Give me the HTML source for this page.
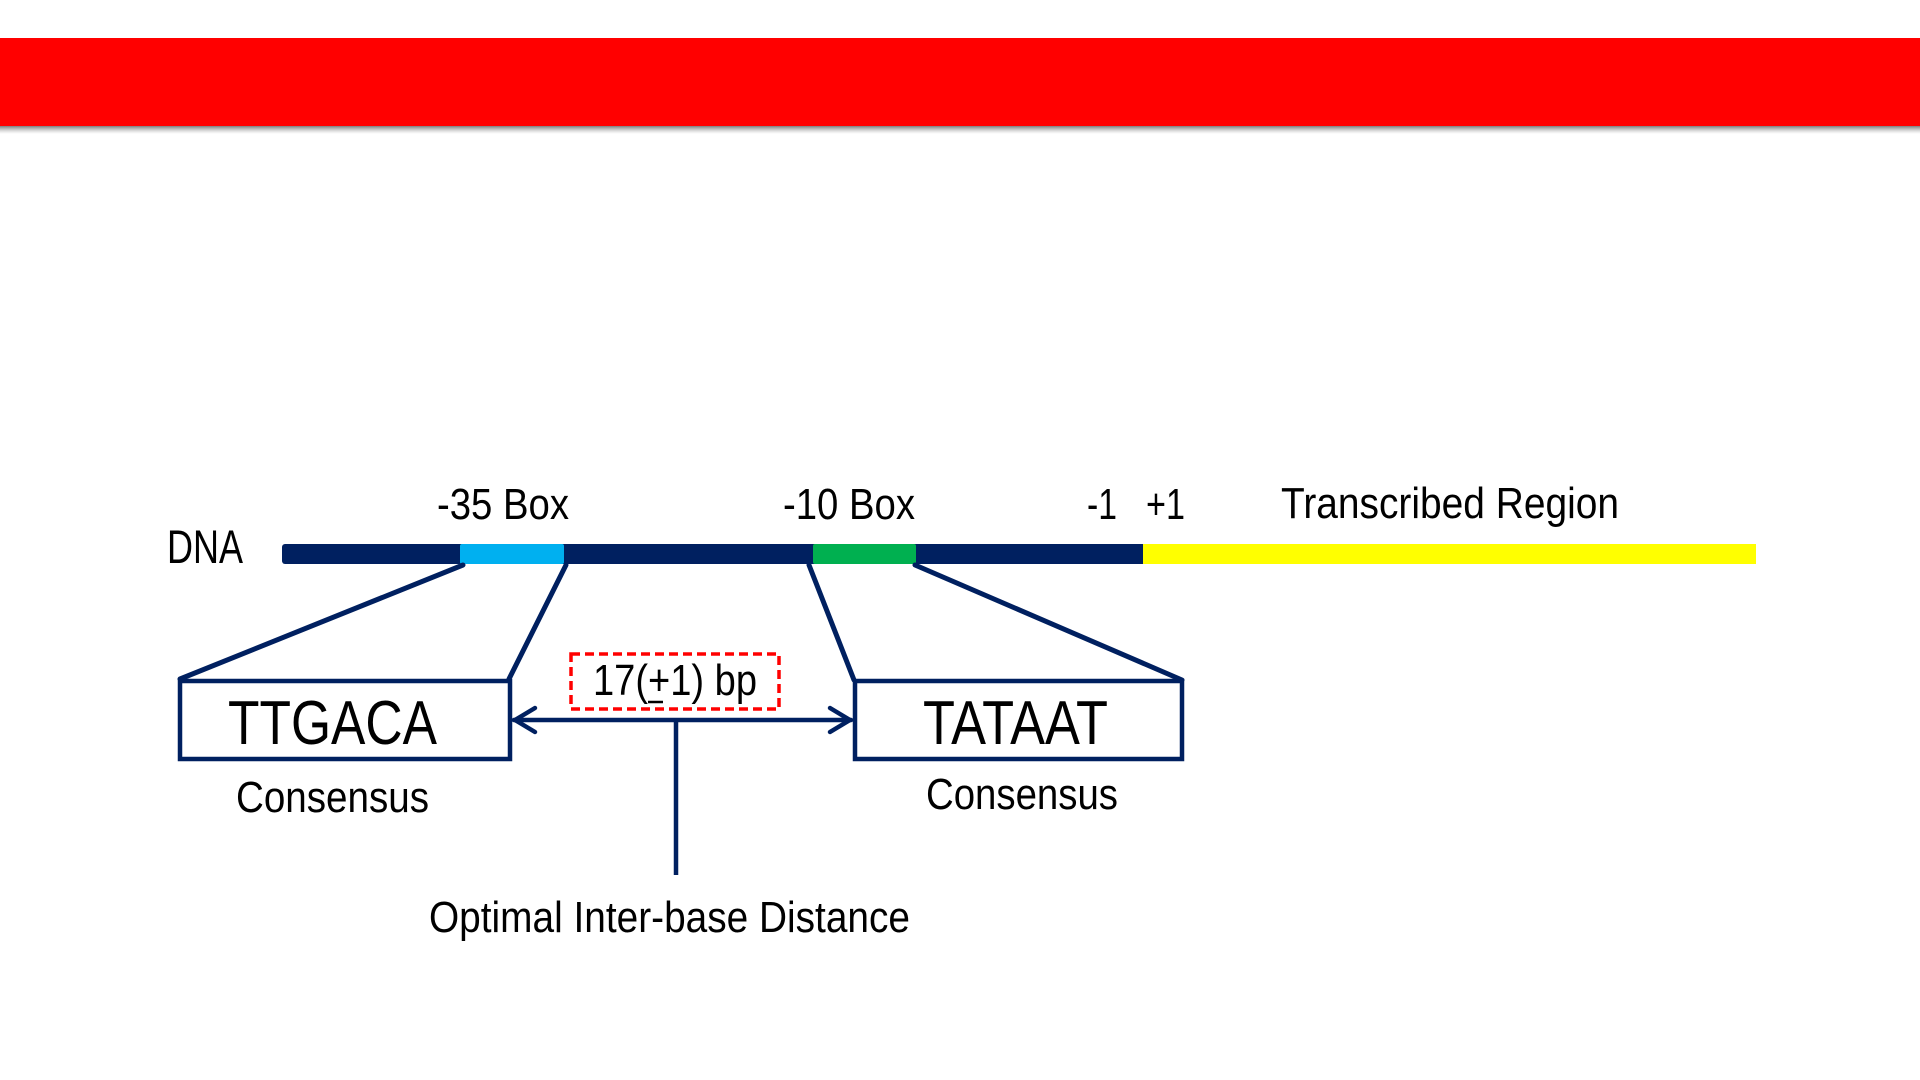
<!DOCTYPE html>
<html>
<head>
<meta charset="utf-8">
<style>
html,body{margin:0;padding:0;background:#fff;}
body{width:1920px;height:1080px;overflow:hidden;position:relative;}
svg{position:absolute;left:0;top:0;}
text{font-family:"Liberation Sans",Arial,sans-serif;fill:#000;}
</style>
</head>
<body>
<svg width="1920" height="1080" viewBox="0 0 1920 1080" xmlns="http://www.w3.org/2000/svg">
  <defs>
    <linearGradient id="sh" x1="0" y1="0" x2="0" y2="1">
      <stop offset="0" stop-color="#6e6e6e" stop-opacity="0.9"/>
      <stop offset="1" stop-color="#bbbbbb" stop-opacity="0"/>
    </linearGradient>
  </defs>
  <rect x="0" y="0" width="1920" height="1080" fill="#ffffff"/>
  <!-- red header bar -->
  <rect x="0" y="126" width="1920" height="8" fill="url(#sh)"/>
  <rect x="0" y="38" width="1920" height="88" fill="#ff0000"/>

  <!-- top labels -->
  <text x="167" y="563" font-size="47" textLength="76" lengthAdjust="spacingAndGlyphs">DNA</text>
  <text x="437" y="519" font-size="44" textLength="132" lengthAdjust="spacingAndGlyphs">-35 Box</text>
  <text x="783" y="519" font-size="44" textLength="132" lengthAdjust="spacingAndGlyphs">-10 Box</text>
  <text x="1087" y="519" font-size="44" textLength="30" lengthAdjust="spacingAndGlyphs">-1</text>
  <text x="1146" y="519" font-size="44" textLength="39" lengthAdjust="spacingAndGlyphs">+1</text>
  <text x="1281" y="518" font-size="44" textLength="338" lengthAdjust="spacingAndGlyphs">Transcribed Region</text>

  <!-- DNA bar -->
  <rect x="282" y="544" width="870" height="20" rx="3" fill="#002060"/>
  <rect x="460" y="544" width="104" height="20" rx="2" fill="#00b0f0"/>
  <rect x="813" y="544" width="103" height="20" rx="2" fill="#00b050"/>
  <rect x="1143" y="544" width="613" height="20" fill="#ffff00"/>

  <!-- trapezoid connector lines -->
  <g stroke="#002060" stroke-width="5" fill="none" stroke-linecap="round">
    <line x1="463" y1="565" x2="180" y2="679"/>
    <line x1="566" y1="565" x2="509" y2="679"/>
    <line x1="809" y1="565" x2="854" y2="680"/>
    <line x1="915" y1="565" x2="1182" y2="680"/>
  </g>

  <!-- boxes -->
  <rect x="180" y="681" width="330" height="78" fill="#fff" stroke="#002060" stroke-width="4.5"/>
  <rect x="855" y="681" width="327" height="78" fill="#fff" stroke="#002060" stroke-width="4.5"/>
  <text x="228" y="744" font-size="62" textLength="209" lengthAdjust="spacingAndGlyphs">TTGACA</text>
  <text x="923" y="744" font-size="62" textLength="185" lengthAdjust="spacingAndGlyphs">TATAAT</text>
  <text x="236" y="812" font-size="44" textLength="193" lengthAdjust="spacingAndGlyphs">Consensus</text>
  <text x="926" y="809" font-size="44" textLength="192" lengthAdjust="spacingAndGlyphs">Consensus</text>

  <!-- double arrow -->
  <g stroke="#002060" stroke-width="4.5" fill="none" stroke-linecap="round" stroke-linejoin="round">
    <line x1="514" y1="720" x2="851" y2="720"/>
    <polyline points="535,708 515,720 535,732"/>
    <polyline points="830,708 850,720 830,732"/>
    <line x1="676" y1="720" x2="676" y2="875" stroke-linecap="butt"/>
  </g>

  <!-- dashed red box -->
  <rect x="571" y="654" width="208" height="55" fill="none" stroke="#ff0000" stroke-width="3.5" stroke-dasharray="9,5"/>
  <text x="593" y="695" font-size="44" textLength="164" lengthAdjust="spacingAndGlyphs">17(+1) bp</text>
  <line x1="648" y1="702" x2="663" y2="702" stroke="#000" stroke-width="2.5"/>

  <text x="429" y="932" font-size="44" textLength="481" lengthAdjust="spacingAndGlyphs">Optimal Inter-base Distance</text>
</svg>
</body>
</html>
